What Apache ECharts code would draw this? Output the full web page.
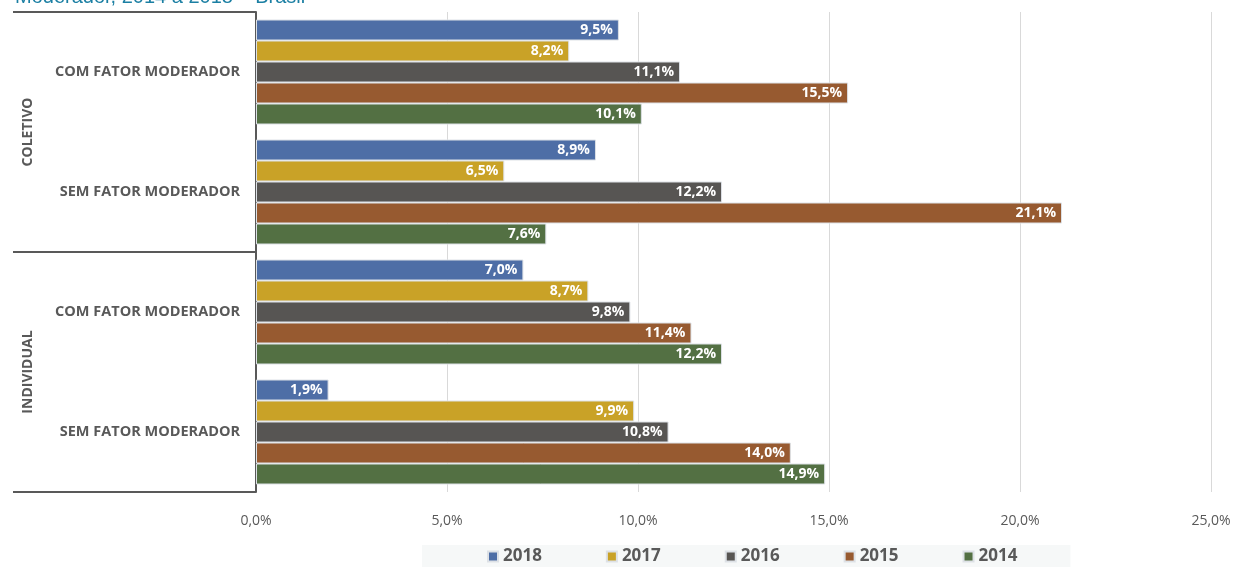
<!DOCTYPE html>
<html>
<head>
<meta charset="utf-8">
<script src="https://cdn.jsdelivr.net/npm/echarts@6/dist/echarts.min.js"></script>
<style>
  html, body { margin: 0; padding: 0; background: #fff; }
  #chart { width: 1235px; height: 567px; }
</style>
</head>
<body>
<div id="chart"></div>
<script>
// categorias (de cima para baixo)
var groups = ['COLETIVO', 'INDIVIDUAL']
var categories = ['COLETIVO_COM', 'COLETIVO_SEM', 'INDIVIDUAL_COM', 'INDIVIDUAL_SEM']
var catLabels = ['COM FATOR MODERADOR', 'SEM FATOR MODERADOR', 'COM FATOR MODERADOR', 'SEM FATOR MODERADOR']
var years = ['2018', '2017', '2016', '2015', '2014']
var colors = ['#4e6ea6', '#c9a227', '#575553', '#975a30', '#537043']

// valores em %
var v2018 = [9.5, 8.9, 7.0, 1.9]
var v2017 = [8.2, 6.5, 8.7, 9.9]
var v2016 = [11.1, 12.2, 9.8, 10.8]
var v2015 = [15.5, 21.1, 11.4, 14.0]
var v2014 = [10.1, 7.6, 12.2, 14.9]
var values = [v2018, v2017, v2016, v2015, v2014]

var axisColor = '#595959'
var fmt = function(v) { return v.toFixed(1).replace('.', ',') + '%' }

var chart = echarts.init(document.getElementById('chart'))

var series = years.map(function(y, i) {
  return {
    name: y,
    type: 'bar',
    yAxisIndex: 0,
    barGap: '0%',
    barCategoryGap: '12.5%',
    data: values[i],
    itemStyle: {
      color: colors[i],
      borderColor: '#dde1e6',
      borderWidth: 1
    },
    label: {
      show: true,
      position: 'insideRight',
      distance: 6,
      color: '#fff',
      fontWeight: 'bold',
      fontSize: 14,
      fontFamily: 'Open Sans',
      formatter: function(p) { return fmt(p.value) }
    }
  }
})

chart.setOption({
  animation: false,
  title: {
    text: 'Moderador, 2014 a 2018 – Brasil',
    left: 10,
    top: -18,
    textStyle: {
      color: '#1b7fa3',
      fontSize: 20,
      fontWeight: 'normal',
      fontFamily: 'Liberation Sans'
    }
  },
  legend: {
    data: years,
    bottom: 0,
    left: 422,
    itemWidth: 10,
    itemHeight: 10,
    itemGap: 64,
    icon: 'rect',
    backgroundColor: '#f6f8f8',
    padding: [3, 53, 2, 65],
    textStyle: {
      color: axisColor,
      fontSize: 17,
      fontWeight: 'bold',
      fontFamily: 'Open Sans'
    }
  },
  grid: {
    left: 256,
    right: 24,
    top: 12,
    bottom: 75
  },
  xAxis: {
    type: 'value',
    min: 0,
    max: 25,
    interval: 5,
    axisLine: { show: false },
    axisTick: { show: false },
    splitLine: { lineStyle: { color: '#d9d9d9', width: 1 } },
    axisLabel: {
      color: axisColor,
      fontSize: 14,
      fontFamily: 'Open Sans',
      margin: 22,
      formatter: fmt
    }
  },
  yAxis: [
    {
      type: 'category',
      data: categories,
      inverse: true,
      axisLine: { show: true, lineStyle: { color: axisColor, width: 2 } },
      axisTick: { show: false },
      axisLabel: {
        color: axisColor,
        fontSize: 14.5,
        fontWeight: 'bold',
        fontFamily: 'Open Sans',
        margin: 16,
        formatter: function(v, i) { return catLabels[i] }
      }
    },
    {
      type: 'category',
      data: groups,
      inverse: true,
      position: 'left',
      offset: 0,
      axisLine: { show: false },
      axisTick: { show: true, length: 243, lineStyle: { color: axisColor, width: 2 } },
      axisLabel: {
        rotate: 90,
        margin: 221,
        color: axisColor,
        fontSize: 14,
        fontWeight: 'bold',
        fontFamily: 'Open Sans'
      }
    }
  ],
  series: series
})
</script>
</body>
</html>
